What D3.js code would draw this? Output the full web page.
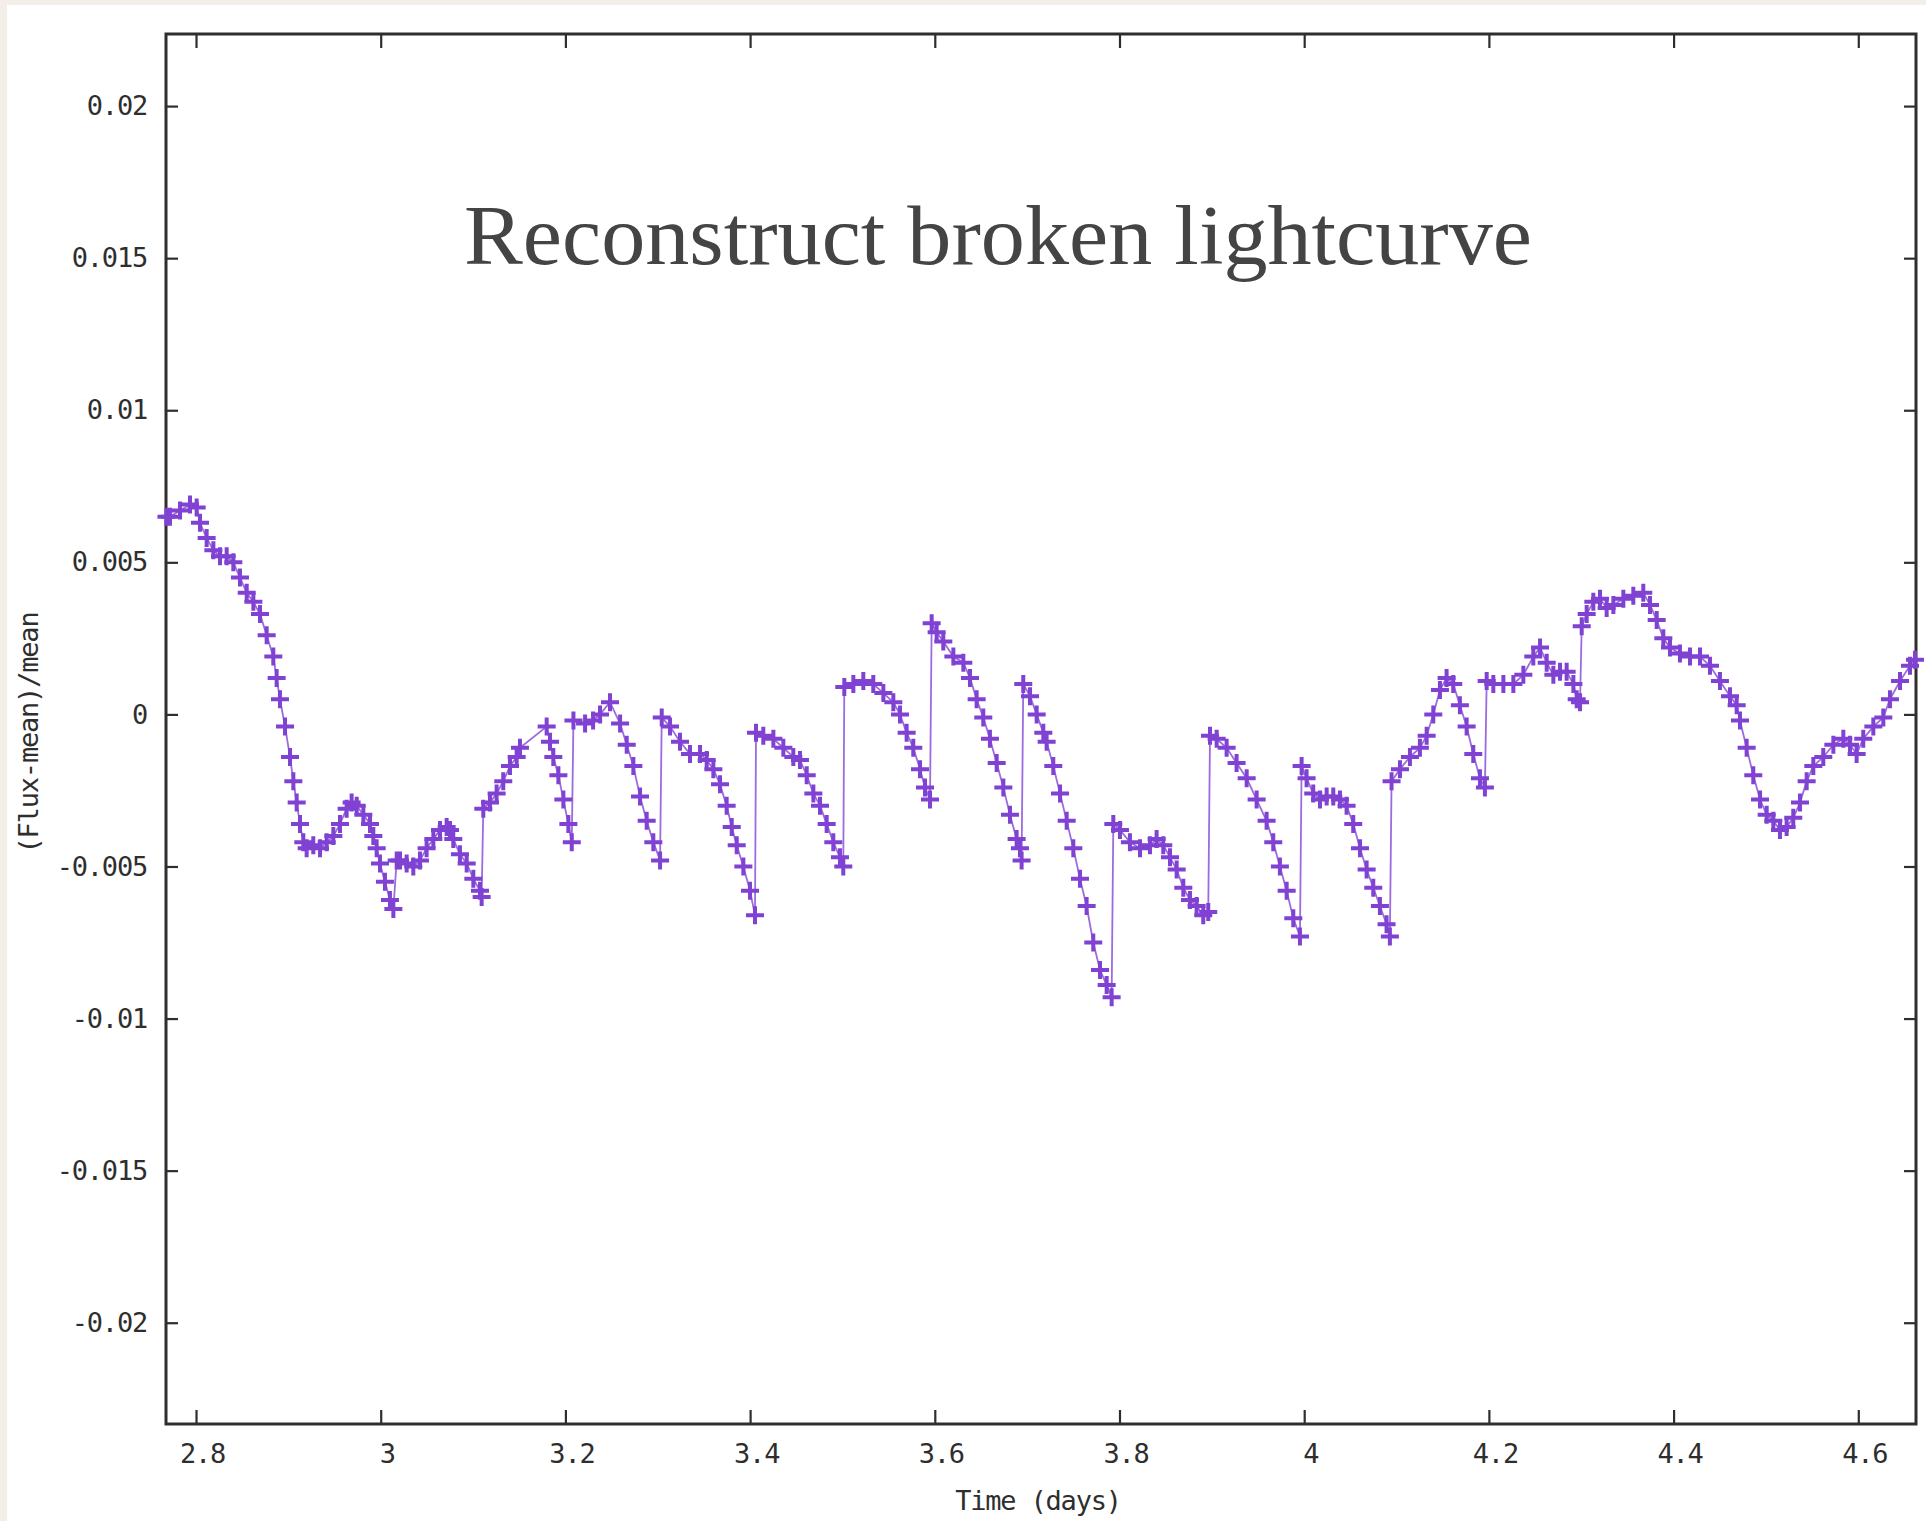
<!DOCTYPE html>
<html>
<head>
<meta charset="utf-8">
<script src="https://cdn.jsdelivr.net/npm/d3@7"></script>
<style>
  html, body { margin: 0; padding: 0; background: #f3efe8; }
  svg { display: block; }
</style>
</head>
<body>
<svg id="chart" width="1926" height="1521"></svg>
<script>
// Observation times (days)
const timeDays = [
  2.768, 2.7718, 2.7827, 2.7935, 2.8007, 2.8043, 2.8115, 2.8188, 2.8260, 2.8332,
  2.8404, 2.8476, 2.8549, 2.8621, 2.8693, 2.8765, 2.8837, 2.8873, 2.8909, 2.8964,
  2.9018, 2.9054, 2.9090, 2.9126, 2.9162, 2.9198, 2.9270, 2.9343, 2.9415, 2.9487,
  2.9559, 2.9631, 2.9685, 2.9740, 2.9812, 2.9884, 2.9920, 2.9956, 2.9992, 3.0046,
  3.0100, 3.0137, 3.0173, 3.0209, 3.0281, 3.0353, 3.0425, 3.0497, 3.0570, 3.0642,
  3.0714, 3.0750, 3.0786, 3.0858, 3.0931, 3.1003, 3.1075, 3.1093,
  3.1111, 3.1183, 3.1255, 3.1327, 3.1400, 3.1472, 3.1508,
  3.1797, 3.1833, 3.1869, 3.1924, 3.1978, 3.2032, 3.2069,
  3.2087, 3.2213, 3.2300, 3.2375, 3.2483, 3.2592, 3.2664, 3.2736, 3.2808, 3.2880,
  3.2952, 3.3025,
  3.3043, 3.3133, 3.3241, 3.3349, 3.3458, 3.3530, 3.3602, 3.3674, 3.3746, 3.3801,
  3.3855, 3.3927, 3.3999, 3.4053,
  3.4064, 3.4143, 3.4252, 3.4360, 3.4468, 3.4540, 3.4613, 3.4685, 3.4757, 3.4829,
  3.4901, 3.4973, 3.5009,
  3.5020, 3.5118, 3.5226, 3.5334, 3.5443, 3.5551, 3.5623, 3.5695, 3.5767, 3.5840,
  3.5894, 3.5948,
  3.5966, 3.6020, 3.6092, 3.6201, 3.6309, 3.6381, 3.6453, 3.6525, 3.6597, 3.6670,
  3.6742, 3.6814, 3.6886, 3.6922, 3.6940,
  3.6958, 3.7031, 3.7103, 3.7175, 3.7211, 3.7283, 3.7356, 3.7428, 3.7500, 3.7572,
  3.7644, 3.7716, 3.7789, 3.7861, 3.7915,
  3.7933, 3.8005, 3.8113, 3.8222, 3.8330, 3.8402, 3.8474, 3.8547, 3.8619, 3.8691,
  3.8763, 3.8835, 3.8907, 3.8961,
  3.8980, 3.9052, 3.9160, 3.9268, 3.9377, 3.9485, 3.9593, 3.9665, 3.9737, 3.9810,
  3.9882, 3.9954,
  3.9972, 4.0026, 4.0098, 4.0171, 4.0243, 4.0315, 4.0387, 4.0459, 4.0531, 4.0604,
  4.0676, 4.0748, 4.0820, 4.0892, 4.0928,
  4.0946, 4.1037, 4.1145, 4.1253, 4.1326, 4.1398, 4.1470, 4.1542, 4.1614, 4.1686,
  4.1759, 4.1831, 4.1903, 4.1957,
  4.1976, 4.2048, 4.2157, 4.2265, 4.2373, 4.2481, 4.2554, 4.2626, 4.2698, 4.2770,
  4.2842, 4.2915, 4.2951, 4.2987,
  4.3005, 4.3059, 4.3131, 4.3203, 4.3275, 4.3348, 4.3456, 4.3564, 4.3672, 4.3745,
  4.3817, 4.3889, 4.3961, 4.4069, 4.4178, 4.4286, 4.4394, 4.4502, 4.4611, 4.4683,
  4.4719, 4.4791, 4.4863, 4.4936, 4.5008, 4.5080, 4.5152, 4.5224, 4.5296, 4.5369,
  4.5441, 4.5513, 4.5621, 4.5730, 4.5838, 4.5910, 4.5982, 4.6054, 4.6163, 4.6271,
  4.6343, 4.6452, 4.6560, 4.6614
];

// Relative flux (Flux-mean)/mean at each time
const fluxRel = [
  0.0065, 0.0065, 0.0067, 0.0069, 0.0068, 0.0063, 0.0058, 0.0054, 0.0052, 0.0052,
  0.0050, 0.0045, 0.0040, 0.0037, 0.0033, 0.0026, 0.0019, 0.0012, 0.0005, -0.0004,
  -0.0014, -0.0022, -0.0029, -0.0036, -0.0042, -0.0044, -0.0043, -0.0044, -0.0042, -0.0040,
  -0.0036, -0.0031, -0.0029, -0.0030, -0.0033, -0.0036, -0.0040, -0.0044, -0.0049, -0.0055,
  -0.0061, -0.0064, -0.0048, -0.0048, -0.0049, -0.0050, -0.0048, -0.0044, -0.0041, -0.0038,
  -0.0037, -0.0038, -0.0041, -0.0046, -0.0049, -0.0054, -0.0058, -0.0060,
  -0.0031, -0.0029, -0.0026, -0.0022, -0.0017, -0.0014, -0.0011,
  -0.0004, -0.0009, -0.0014, -0.0020, -0.0028, -0.0036, -0.0042,
  -0.0002, -0.0003, -0.0002, 0.0000, 0.0004, -0.0003, -0.0010, -0.0017, -0.0027, -0.0035,
  -0.0042, -0.0048,
  -0.0001, -0.0004, -0.0009, -0.0013, -0.0013, -0.0015, -0.0018, -0.0023, -0.0030, -0.0037,
  -0.0043, -0.0050, -0.0058, -0.0066,
  -0.0006, -0.0007, -0.0008, -0.0011, -0.0014, -0.0015, -0.0020, -0.0026, -0.0030, -0.0036,
  -0.0042, -0.0047, -0.0050,
  0.0009, 0.0010, 0.0011, 0.0010, 0.0007, 0.0004, 0.0000, -0.0006, -0.0011, -0.0018,
  -0.0024, -0.0028,
  0.0030, 0.0027, 0.0024, 0.0019, 0.0017, 0.0012, 0.0005, -0.0001, -0.0008, -0.0016,
  -0.0024, -0.0033, -0.0041, -0.0044, -0.0048,
  0.0010, 0.0006, 0.0000, -0.0006, -0.0009, -0.0017, -0.0026, -0.0035, -0.0044, -0.0054,
  -0.0063, -0.0075, -0.0084, -0.0089, -0.0093,
  -0.0036, -0.0038, -0.0042, -0.0044, -0.0043, -0.0041, -0.0043, -0.0047, -0.0051, -0.0057,
  -0.0061, -0.0063, -0.0066, -0.0065,
  -0.0007, -0.0008, -0.0011, -0.0016, -0.0021, -0.0028, -0.0035, -0.0042, -0.0050, -0.0058,
  -0.0067, -0.0073,
  -0.0017, -0.0021, -0.0026, -0.0028, -0.0027, -0.0027, -0.0028, -0.0030, -0.0036, -0.0044,
  -0.0051, -0.0057, -0.0063, -0.0069, -0.0073,
  -0.0022, -0.0018, -0.0014, -0.0011, -0.0007, 0.0000, 0.0008, 0.0012, 0.0010, 0.0003,
  -0.0004, -0.0013, -0.0021, -0.0024,
  0.0011, 0.0010, 0.0010, 0.0010, 0.0013, 0.0019, 0.0022, 0.0017, 0.0013, 0.0014,
  0.0014, 0.0010, 0.0005, 0.0004,
  0.0029, 0.0033, 0.0037, 0.0038, 0.0035, 0.0036, 0.0038, 0.0039, 0.0040, 0.0036,
  0.0031, 0.0025, 0.0022, 0.0020, 0.0019, 0.0019, 0.0016, 0.0011, 0.0006, 0.0003,
  -0.0002, -0.0011, -0.0020, -0.0028, -0.0033, -0.0035, -0.0038, -0.0037, -0.0034, -0.0029,
  -0.0022, -0.0017, -0.0014, -0.0010, -0.0008, -0.0010, -0.0013, -0.0008, -0.0004, -0.0001,
  0.0005, 0.0011, 0.0016, 0.0018
];

const xTickValues = [2.8, 3.0, 3.2, 3.4, 3.6, 3.8, 4.0, 4.2, 4.4, 4.6];
const xTickLabels = ["2.8", "3", "3.2", "3.4", "3.6", "3.8", "4", "4.2", "4.4", "4.6"];
const yTickValues = [0.02, 0.015, 0.01, 0.005, 0, -0.005, -0.01, -0.015, -0.02];
const yTickLabels = ["0.02", "0.015", "0.01", "0.005", "0", "-0.005", "-0.01", "-0.015", "-0.02"];

const titleText = "Reconstruct broken lightcurve";
const xAxisTitle = "Time (days)";
const yAxisTitle = "(Flux-mean)/mean";

const points = timeDays.map((t, i) => ({ t, v: fluxRel[i] }));

const svg = d3.select("#chart");
const plot = { left: 166, top: 34, right: 1916, bottom: 1424 };

// white sheet over the beige page
svg.append("rect")
  .attr("x", 7).attr("y", 5)
  .attr("width", 1926 - 7).attr("height", 1521 - 5)
  .attr("fill", "#ffffff");

const x = d3.scaleLinear().domain([2.7675, 4.6625]).range([plot.left, plot.right]);
const y = d3.scaleLinear().domain([-0.02333, 0.02237]).range([plot.bottom, plot.top]);

const monoFont = "'DejaVu Sans Mono', 'Liberation Mono', monospace";
const inkColor = "#2e2e2e";

function styleAxis(g) {
  g.select(".domain").remove();
  g.selectAll(".tick line").attr("stroke", inkColor).attr("stroke-width", 2.2);
  g.selectAll(".tick text")
    .attr("fill", inkColor)
    .style("font-family", monoFont)
    .style("font-size", "27px")
    .style("letter-spacing", "-1.2px");
}

// bottom axis with labels
svg.append("g")
  .attr("transform", `translate(0,${plot.bottom})`)
  .call(d3.axisBottom(x).tickValues(xTickValues).tickSize(-14).tickPadding(20)
    .tickFormat((d, i) => xTickLabels[i]))
  .call(styleAxis)
  .call(g => g.selectAll(".tick text").attr("dx", "6px"));

// top axis, ticks only
svg.append("g")
  .attr("transform", `translate(0,${plot.top})`)
  .call(d3.axisTop(x).tickValues(xTickValues).tickSize(-14).tickFormat(""))
  .call(styleAxis);

// left axis with labels
svg.append("g")
  .attr("transform", `translate(${plot.left},0)`)
  .call(d3.axisLeft(y).tickValues(yTickValues).tickSize(-12).tickPadding(19)
    .tickFormat((d, i) => yTickLabels[i]))
  .call(styleAxis);

// right axis, ticks only
svg.append("g")
  .attr("transform", `translate(${plot.right},0)`)
  .call(d3.axisRight(y).tickValues(yTickValues).tickSize(-12).tickFormat(""))
  .call(styleAxis);

// plot frame
svg.append("rect")
  .attr("x", plot.left).attr("y", plot.top)
  .attr("width", plot.right - plot.left).attr("height", plot.bottom - plot.top)
  .attr("fill", "none").attr("stroke", inkColor).attr("stroke-width", 3);

// connecting line
const line = d3.line().x(d => x(d.t)).y(d => y(d.v));
svg.append("path")
  .datum(points)
  .attr("d", line)
  .attr("fill", "none")
  .attr("stroke", "#8a52d8")
  .attr("stroke-width", 1.8)
  .attr("stroke-opacity", 0.85);

// "+" markers
const half = 9;
svg.append("g")
  .selectAll("path")
  .data(points)
  .join("path")
  .attr("d", d => {
    const cx = x(d.t), cy = y(d.v);
    return `M${cx - half},${cy}H${cx + half}M${cx},${cy - half}V${cy + half}`;
  })
  .attr("stroke", "#8042d2")
  .attr("stroke-width", 4)
  .attr("fill", "none");

// axis titles
svg.append("text")
  .attr("x", (plot.left + plot.right) / 2 - 3)
  .attr("y", 1510)
  .attr("text-anchor", "middle")
  .attr("fill", inkColor)
  .style("font-family", monoFont)
  .style("font-size", "27px")
  .style("letter-spacing", "-1.2px")
  .text(xAxisTitle);

svg.append("text")
  .attr("transform", "translate(38,733) rotate(-90)")
  .attr("text-anchor", "middle")
  .attr("fill", inkColor)
  .style("font-family", monoFont)
  .style("font-size", "27px")
  .style("letter-spacing", "-1.2px")
  .text(yAxisTitle);

// chart title
svg.append("text")
  .attr("x", 464)
  .attr("y", 264)
  .attr("textLength", 1068)
  .attr("lengthAdjust", "spacingAndGlyphs")
  .attr("fill", "#444444")
  .style("font-family", "'Liberation Serif', 'DejaVu Serif', serif")
  .style("font-size", "84px")
  .text(titleText);
</script>
</body>
</html>
